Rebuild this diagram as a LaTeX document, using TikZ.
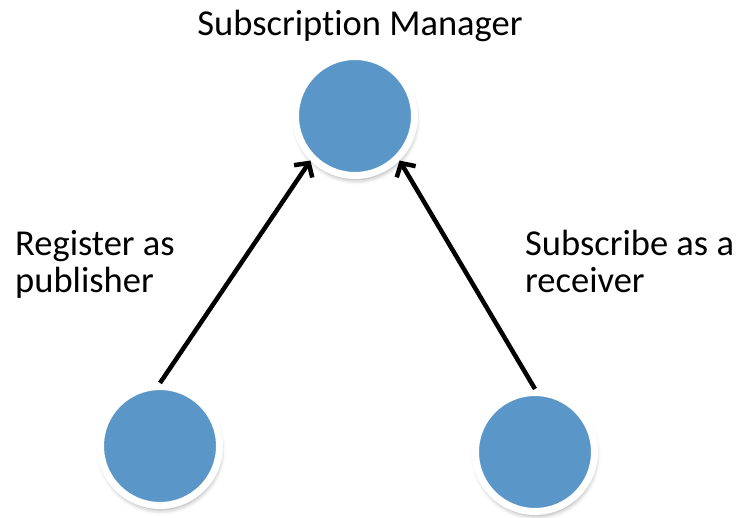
\documentclass[tikz,border=0pt]{standalone}
\usepackage{fontspec}
\setmainfont{Carlito}[Ligatures=NoCommon]
\usepackage{xcolor}
\usepackage{tikz}
\usetikzlibrary{arrows.meta,shadows.blur}
\definecolor{nodeblue}{RGB}{91,150,201}

\begin{document}
\begin{tikzpicture}[
    x=1pt, y=1pt,
    party/.style={
        circle,
        fill=nodeblue,
        draw=white,
        line width=7pt,
        inner sep=0pt,
        minimum size=119pt,
        blur shadow={shadow xshift=1pt, shadow yshift=-4pt,
            shadow blur radius=5pt, shadow opacity=40}
    },
    caption/.style={
        align=left,
        inner sep=0pt,
        font=\fontsize{36.5}{37}\selectfont
    },
    arrow/.style={
        -{Straight Barb[length=10pt,width=22pt]},
        line width=4.5pt
    }
]
\useasboundingbox (0,0) rectangle (739,517);
\node[party] (M) at (355,401) {};
\node[party] (P) at (160,71) {};
\node[party] (R) at (535,65) {};
\node[caption, anchor=base] (Mlabel) at (360,481) {Subscription Manager};
\node[caption, anchor=north west] (Plabel) at (15,287)
{Register as\\
publisher};
\node[caption, anchor=north west] (Rlabel) at (525,287)
{Subscribe as a\\
receiver};
\draw[arrow] (P.north) -- (M.south west);
\draw[arrow] (R.north) -- (M.south east);
\end{tikzpicture}
\end{document}
